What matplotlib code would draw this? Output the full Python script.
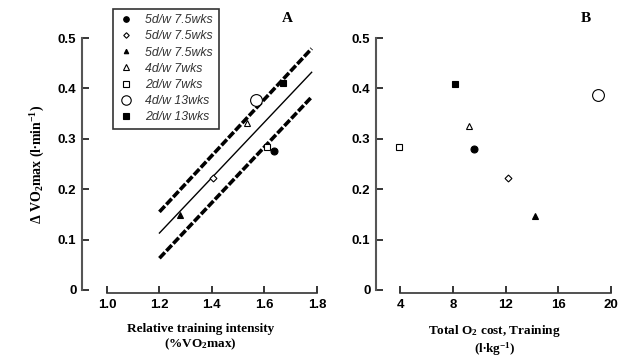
import matplotlib.pyplot as plt

# legend labels and marker styles
labels = ["5d/w 7.5wks", "5d/w 7.5wks", "5d/w 7.5wks", "4d/w 7wks",
          "2d/w 7wks", "4d/w 13wks", "2d/w 13wks"]
markers = ["o", "D", "^", "^", "s", "o", "s"]
filled = [True, False, True, False, False, False, True]
sizes = [5, 3.5, 4, 5, 5, 8.5, 5]

# panel A: relative training intensity vs delta VO2max
intensity = [1.635, 1.405, 1.28, 1.535, 1.61, 1.568, 1.67]
dvo2_a = [0.275, 0.222, 0.149, 0.331, 0.283, 0.377, 0.41]

# panel B: total O2 cost vs delta VO2max
o2_cost = [9.6, 12.2, 14.2, 9.25, 3.95, 19.0, 8.15]
dvo2_b = [0.279, 0.222, 0.146, 0.325, 0.284, 0.387, 0.409]

fit_x = [1.2, 1.78]
fit_mid = [0.113, 0.432]
fit_hi = [0.155, 0.479]
fit_lo = [0.063, 0.383]

plt.rcParams['font.family'] = ['Liberation Sans', 'DejaVu Sans']
plt.rcParams['mathtext.fontset'] = 'custom'
plt.rcParams['mathtext.rm'] = 'Liberation Serif:bold'
plt.rcParams['mathtext.it'] = 'Liberation Serif:bold'
plt.rcParams['mathtext.bf'] = 'Liberation Serif:bold'

fig = plt.figure(figsize=(6.19, 3.62), dpi=100)
ax1 = fig.add_axes([82 / 619, 1 - 293 / 362, 237 / 619, 257 / 362])
ax2 = fig.add_axes([376 / 619, 1 - 293 / 362, 237 / 619, 257 / 362])

handles = []
for i in range(len(labels)):
    fc = "black" if filled[i] else "white"
    h, = ax1.plot(intensity[i], dvo2_a[i], marker=markers[i], ms=sizes[i],
                  mfc=fc, mec="black", mew=0.8, ls="none", label=labels[i], zorder=3)
    handles.append(h)
    ax2.plot(o2_cost[i], dvo2_b[i], marker=markers[i], ms=sizes[i],
             mfc=fc, mec="black", mew=0.8, ls="none", zorder=3)

ax1.plot(fit_x, fit_mid, color="black", lw=1)
ax1.plot(fit_x, fit_hi, color="black", lw=2.6, ls=(0, (2.2, 0.6)))
ax1.plot(fit_x, fit_lo, color="black", lw=2.6, ls=(0, (2.2, 0.6)))

leg = ax1.legend(handles=handles, loc="upper left", bbox_to_anchor=(0.105, 1.13),
                 frameon=True, fancybox=False, edgecolor="black", fontsize=8.8,
                 handlelength=1.3, handletextpad=0.9, labelspacing=0.34,
                 borderpad=0.45, markerscale=0.8)
leg.get_frame().set_linewidth(1.2)
for t in leg.get_texts():
    t.set_fontstyle("italic")
    t.set_color("#333333")

ax1.set_xlim(0.905, 1.808)
ax1.set_xticks([1.0, 1.2, 1.4, 1.6, 1.8])
ax1.set_xticklabels(["1.0", "1.2", "1.4", "1.6", "1.8"])
ax1.spines["bottom"].set_bounds(1.0, 1.8)

ax2.set_xlim(2.18, 20.15)
ax2.set_xticks([4, 8, 12, 16, 20])
ax2.spines["bottom"].set_bounds(4, 20)

for ax in (ax1, ax2):
    ax.set_ylim(-0.006, 0.504)
    ax.set_yticks([0, 0.1, 0.2, 0.3, 0.4, 0.5])
    ax.set_yticklabels(["0", "0.1", "0.2", "0.3", "0.4", "0.5"])
    ax.spines["left"].set_bounds(0, 0.5)
    ax.spines["top"].set_visible(False)
    ax.spines["right"].set_visible(False)
    ax.spines["left"].set_color("#555555")
    ax.spines["bottom"].set_color("#333333")
    ax.spines["left"].set_linewidth(1.5)
    ax.spines["bottom"].set_linewidth(1.2)
    ax.tick_params(direction="in", length=5, width=1.1, labelsize=9.5, pad=4)
    for t in ax.get_xticklabels() + ax.get_yticklabels():
        t.set_fontweight("bold")

ax1.set_ylabel(r"$\Delta$ VO$_2$max (l$\bullet$min$^{-1}$)", family="Liberation Serif",
               fontweight="bold", fontsize=10, labelpad=8)
ax1.set_xlabel("Relative training intensity\n(%VO$_2$max)", family="Liberation Serif",
               fontweight="bold", fontsize=9.5, labelpad=9, linespacing=1.1)
ax2.set_xlabel("Total O$_2$ cost, Training\n(l$\\bullet$kg$^{-1}$)", family="Liberation Serif",
               fontweight="bold", fontsize=9.5, labelpad=9, linespacing=1.1)

fig.text(287 / 619, 1 - 19 / 362, "A", family="Liberation Serif", fontweight="bold",
         fontsize=11, ha="center", va="center")
fig.text(586 / 619, 1 - 19 / 362, "B", family="Liberation Serif", fontweight="bold",
         fontsize=11, ha="center", va="center")

fig.savefig("out.png", dpi=100)
